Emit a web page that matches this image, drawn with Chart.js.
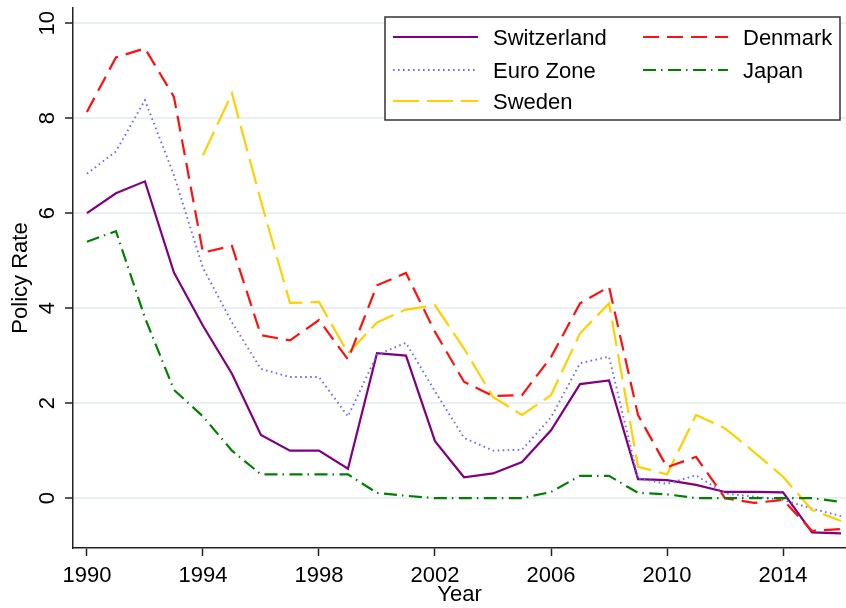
<!DOCTYPE html>
<html>
<head>
<meta charset="utf-8">
<script src="https://cdn.jsdelivr.net/npm/chart.js@4"></script>
<style>
  html, body { margin: 0; padding: 0; background: #fff; }
  canvas { display: block; }
</style>
</head>
<body>
<canvas id="rateChart" width="846" height="608"></canvas>
<script>
// policy rates by year
const years = [1990, 1991, 1992, 1993, 1994, 1995, 1996, 1997, 1998, 1999, 2000, 2001, 2002, 2003,
               2004, 2005, 2006, 2007, 2008, 2009, 2010, 2011, 2012, 2013, 2014, 2015, 2016];
const switzerland = [6.0, 6.42, 6.67, 4.75, 3.63, 2.62, 1.33, 1.0, 1.0, 0.62, 3.05, 3.0, 1.2, 0.44,
                     0.52, 0.76, 1.43, 2.4, 2.48, 0.4, 0.38, 0.28, 0.13, 0.13, 0.12, -0.72, -0.74];
const euroZone = [6.83, 7.3, 8.38, 6.8, 4.85, 3.7, 2.72, 2.55, 2.55, 1.72, 3.02, 3.27, 2.25, 1.27,
                  1.0, 1.02, 1.7, 2.84, 2.98, 0.42, 0.3, 0.48, 0.1, 0.03, -0.04, -0.22, -0.38];
const sweden = [null, null, null, null, 7.22, 8.52, 6.25, 4.11, 4.13, 3.05, 3.7, 3.97, 4.06, 3.15,
                2.13, 1.75, 2.17, 3.47, 4.1, 0.66, 0.5, 1.75, 1.47, 0.97, 0.45, -0.25, -0.48];
const denmark = [8.13, 9.28, 9.47, 8.45, 5.17, 5.31, 3.43, 3.32, 3.75, 2.92, 4.48, 4.74, 3.5, 2.45,
                 2.15, 2.17, 2.97, 4.1, 4.45, 1.75, 0.65, 0.87, 0.0, -0.1, -0.04, -0.69, -0.65];
const japan = [5.4, 5.62, 3.8, 2.28, 1.72, 1.0, 0.5, 0.5, 0.5, 0.5, 0.11, 0.05, 0.0, 0.0,
               0.0, 0.0, 0.13, 0.47, 0.47, 0.11, 0.08, 0.0, 0.0, 0.0, 0.0, 0.0, -0.08];

const seriesNames = ['Switzerland', 'Euro Zone', 'Sweden', 'Denmark', 'Japan'];
const xTicks = [1990, 1994, 1998, 2002, 2006, 2010, 2014];
const yTicks = [0, 2, 4, 6, 8, 10];

const FONT = "'Liberation Sans', Arial, sans-serif";
Chart.defaults.font.family = FONT;
Chart.defaults.color = '#000';

function toPoints(values) {
    return years.map((yr, i) => ({ x: yr, y: values[i] }));
}

const styles = [
    { color: '#800080', dash: [], width: 2.2 },
    { color: '#6A6AFF', dash: [1.6, 3.4], width: 1.9 },
    { color: '#FFD000', dash: [26, 8], width: 2.2 },
    { color: '#FF1010', dash: [16, 8], width: 2.2 },
    { color: '#008000', dash: [13, 5, 1.5, 5.5], width: 2.2 }
];
const seriesValues = [switzerland, euroZone, sweden, denmark, japan];

const datasets = seriesNames.map((name, i) => ({
    label: name,
    data: toPoints(seriesValues[i]),
    borderColor: styles[i].color,
    borderDash: styles[i].dash,
    borderWidth: styles[i].width,
    borderCapStyle: 'butt',
    pointRadius: 0,
    tension: 0,
    fill: false,
    spanGaps: false,
    order: 4 - i
}));

// legend in a framed box, two columns like the original
const legendLayout = [
    { idx: 0, col: 0, row: 0 },
    { idx: 1, col: 0, row: 1 },
    { idx: 2, col: 0, row: 2 },
    { idx: 3, col: 1, row: 0 },
    { idx: 4, col: 1, row: 1 }
];
const boxLegend = {
    id: 'boxLegend',
    afterDatasetsDraw(chart) {
        const ctx = chart.ctx;
        const area = chart.chartArea;
        const bx = area.right - 461, by = area.top + 9, bw = 455, bh = 103;
        const rowsY = [20, 53, 84];
        const colX = [8, 258];
        ctx.save();
        ctx.fillStyle = '#fff';
        ctx.fillRect(bx, by, bw, bh);
        ctx.strokeStyle = '#333';
        ctx.lineWidth = 1.5;
        ctx.strokeRect(bx, by, bw, bh);
        ctx.font = '22px ' + FONT;
        ctx.textBaseline = 'alphabetic';
        ctx.textAlign = 'left';
        legendLayout.forEach(item => {
            const ds = chart.data.datasets[item.idx];
            const ly = by + rowsY[item.row];
            const lx = bx + colX[item.col];
            ctx.beginPath();
            ctx.setLineDash(ds.borderDash);
            ctx.strokeStyle = ds.borderColor;
            ctx.lineWidth = ds.borderWidth;
            ctx.moveTo(lx, ly);
            ctx.lineTo(lx + 85, ly);
            ctx.stroke();
            ctx.setLineDash([]);
            ctx.fillStyle = '#000';
            ctx.fillText(ds.label, lx + 100, ly + 8);
        });
        ctx.restore();
    }
};

// vertical y tick labels
const yLabels = {
    id: 'yLabels',
    afterDraw(chart) {
        const scale = chart.scales.y;
        const ctx = chart.ctx;
        ctx.save();
        ctx.font = '22px ' + FONT;
        ctx.fillStyle = '#000';
        ctx.textAlign = 'center';
        ctx.textBaseline = 'alphabetic';
        scale.ticks.forEach(t => {
            const py = scale.getPixelForValue(t.value);
            ctx.save();
            ctx.translate(scale.right - 19, py);
            ctx.rotate(-Math.PI / 2);
            ctx.fillText(String(t.value), 0, 0);
            ctx.restore();
        });
        ctx.restore();
    }
};

new Chart(document.getElementById('rateChart').getContext('2d'), {
    type: 'line',
    data: { datasets: datasets },
    options: {
        responsive: false,
        animation: false,
        layout: { padding: { top: 8, right: 0, left: 0, bottom: 0 } },
        plugins: { legend: { display: false }, tooltip: { enabled: false } },
        scales: {
            x: {
                type: 'linear',
                min: 1989.52,
                max: 2016.17,
                afterBuildTicks: s => { s.ticks = xTicks.map(v => ({ value: v })); },
                afterFit: s => { s.height = 60; },
                grid: { drawOnChartArea: false, drawTicks: true, tickLength: 8, tickColor: '#222', tickWidth: 1.5 },
                border: { color: '#222', width: 1.5 },
                ticks: { font: { size: 22 }, color: '#000', padding: 7, maxRotation: 0, autoSkip: false,
                         callback: v => String(v) },
                title: { display: true, text: 'Year', font: { size: 22 }, color: '#000', padding: { top: 0, bottom: 0 } }
            },
            y: {
                type: 'linear',
                min: -1.05,
                max: 10.32,
                afterBuildTicks: s => { s.ticks = yTicks.map(v => ({ value: v })); },
                afterFit: s => { s.width = 73; },
                grid: { color: '#E8F0F3', lineWidth: 2, drawTicks: true, tickLength: 8, tickColor: '#222', tickWidth: 1.5 },
                border: { color: '#222', width: 1.5 },
                ticks: { display: false },
                title: { display: true, text: 'Policy Rate', font: { size: 22 }, color: '#000', padding: { top: 8, bottom: 0 } }
            }
        }
    },
    plugins: [boxLegend, yLabels]
});
</script>
</body>
</html>
